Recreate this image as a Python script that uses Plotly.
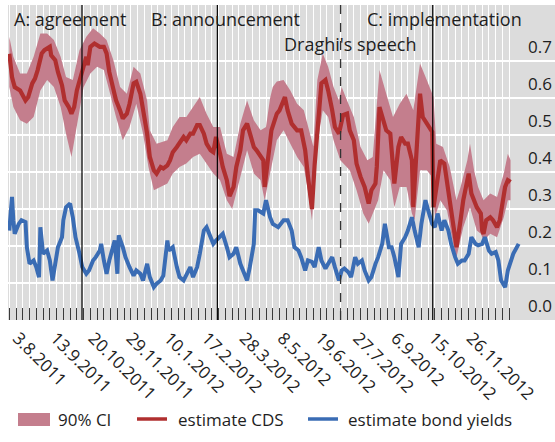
import plotly.graph_objects as go

# ---------------- data (observation index on x) ----------------
cds_obs = [0,2,4,8,12,14,17,19,21,24,26,30,31,34,36,39,41,44,46,48,50,52,55,57,58,60,63,67,70,72,74,77,79,82,84,87,89,92,94,97,99,102,104,107,109,112,114,117,119,121,124,126,129,131,134,136,139,141,144,146,149,151,153,156,158,161,163,166,168,171,173,176,178,181,183,186,188,189,192,194,198,200,204,206,209,213,216,219,221,224,226,229,231,234,236,239,241,244,245,247,250,252,255,257,260,263,266,268,271,272,274,277,279,282,284,285,288,290,293,295,298,299,301,304,306,309,313,314,316,319,322,324,326,329,331,334,336,340,342,346,349,350,351,353,356,358,361,363,365,367,369,371]
cds_est = [0.72,0.657,0.63,0.621,0.594,0.603,0.64,0.653,0.676,0.721,0.73,0.739,0.716,0.703,0.671,0.635,0.594,0.576,0.558,0.576,0.621,0.649,0.694,0.712,0.689,0.739,0.748,0.739,0.739,0.721,0.671,0.626,0.594,0.567,0.545,0.558,0.585,0.64,0.644,0.612,0.567,0.504,0.441,0.405,0.396,0.414,0.41,0.418,0.432,0.454,0.468,0.477,0.495,0.486,0.504,0.504,0.527,0.527,0.504,0.477,0.459,0.454,0.495,0.45,0.414,0.378,0.335,0.36,0.414,0.459,0.513,0.531,0.504,0.468,0.459,0.441,0.432,0.36,0.441,0.513,0.558,0.567,0.603,0.567,0.531,0.513,0.513,0.459,0.39,0.30,0.42,0.567,0.64,0.649,0.621,0.567,0.522,0.504,0.522,0.554,0.558,0.513,0.486,0.423,0.387,0.36,0.315,0.351,0.369,0.414,0.576,0.54,0.513,0.504,0.432,0.369,0.468,0.495,0.477,0.477,0.432,0.305,0.432,0.612,0.549,0.531,0.509,0.305,0.36,0.432,0.423,0.369,0.324,0.251,0.197,0.27,0.324,0.396,0.342,0.305,0.288,0.242,0.233,0.27,0.278,0.27,0.251,0.27,0.315,0.36,0.378,0.373]

ci_up_obs = [0,3,8,13,18,23,28,33,38,42,47,52,57,62,67,72,77,82,87,92,97,102,104,109,117,121,126,131,136,141,146,151,156,161,166,171,176,181,186,190,193,195,198,203,208,213,218,223,225,228,232,236,240,244,246,250,255,260,265,269,274,279,284,289,294,299,304,309,314,316,321,326,331,334,339,341,344,347,351,356,361,366,369,371]
ci_up = [0.766,0.712,0.667,0.667,0.712,0.775,0.775,0.757,0.712,0.657,0.649,0.73,0.766,0.789,0.775,0.757,0.703,0.63,0.612,0.685,0.667,0.594,0.513,0.477,0.486,0.522,0.549,0.549,0.576,0.603,0.558,0.522,0.522,0.45,0.441,0.531,0.594,0.54,0.513,0.522,0.60,0.63,0.645,0.649,0.621,0.585,0.567,0.50,0.47,0.649,0.721,0.685,0.63,0.594,0.63,0.594,0.549,0.468,0.432,0.441,0.676,0.612,0.549,0.585,0.612,0.567,0.694,0.649,0.603,0.477,0.468,0.414,0.324,0.36,0.432,0.477,0.405,0.36,0.324,0.342,0.333,0.396,0.45,0.432]

ci_lo_obs = [0,3,8,13,18,23,28,33,38,42,46,50,55,60,65,70,74,79,84,89,94,99,103,107,112,117,121,126,131,136,141,146,151,156,161,165,171,176,181,186,189,193,198,203,208,213,218,221,224,228,232,236,240,245,252,257,262,266,269,273,277,282,285,289,294,298,300,304,309,313,315,319,324,329,331,336,341,346,349,351,356,361,366,369,371]
ci_lo = [0.63,0.576,0.54,0.531,0.549,0.621,0.649,0.63,0.576,0.504,0.441,0.522,0.63,0.667,0.685,0.676,0.621,0.549,0.486,0.522,0.585,0.504,0.414,0.351,0.36,0.369,0.396,0.414,0.423,0.441,0.45,0.423,0.396,0.378,0.324,0.30,0.387,0.459,0.396,0.378,0.324,0.396,0.486,0.513,0.477,0.441,0.414,0.351,0.27,0.477,0.567,0.549,0.486,0.432,0.405,0.351,0.288,0.26,0.288,0.324,0.405,0.378,0.305,0.36,0.36,0.288,0.27,0.405,0.405,0.387,0.278,0.324,0.296,0.197,0.17,0.251,0.305,0.242,0.233,0.215,0.233,0.224,0.278,0.324,0.324]

bond_obs = [0,2,3,4,7,9,12,13,15,18,20,22,23,25,28,30,32,34,36,39,40,42,45,47,49,52,54,57,59,62,64,67,68,70,72,74,77,78,80,81,84,86,89,92,94,97,99,102,104,107,109,112,114,117,118,121,124,126,129,131,134,136,139,141,144,146,149,151,153,156,158,161,163,166,168,171,173,176,178,181,182,184,188,190,193,195,199,203,206,209,211,214,216,219,221,224,226,229,231,234,236,239,241,244,246,248,251,253,256,258,261,263,266,268,271,273,276,278,281,283,285,288,290,293,295,298,300,303,305,308,310,313,315,317,320,322,325,327,330,332,335,337,340,342,345,347,350,352,355,357,360,362,364,367,369,371,373,377]
bond_est = [0.242,0.333,0.27,0.233,0.26,0.27,0.265,0.197,0.152,0.161,0.143,0.116,0.251,0.179,0.188,0.161,0.107,0.152,0.197,0.224,0.27,0.305,0.315,0.278,0.224,0.179,0.143,0.125,0.134,0.161,0.17,0.188,0.206,0.161,0.125,0.161,0.197,0.215,0.125,0.229,0.197,0.17,0.143,0.12,0.134,0.125,0.107,0.152,0.116,0.089,0.098,0.107,0.12,0.215,0.188,0.197,0.143,0.116,0.107,0.12,0.143,0.116,0.143,0.179,0.242,0.251,0.224,0.206,0.215,0.224,0.233,0.197,0.17,0.179,0.197,0.152,0.134,0.107,0.143,0.206,0.297,0.297,0.288,0.324,0.278,0.26,0.251,0.27,0.27,0.242,0.197,0.188,0.17,0.134,0.161,0.157,0.143,0.197,0.161,0.139,0.152,0.17,0.143,0.107,0.134,0.139,0.129,0.116,0.17,0.152,0.161,0.134,0.107,0.116,0.152,0.17,0.206,0.26,0.197,0.197,0.17,0.116,0.206,0.224,0.242,0.278,0.242,0.197,0.26,0.324,0.297,0.26,0.251,0.288,0.242,0.27,0.242,0.206,0.17,0.152,0.161,0.161,0.179,0.224,0.206,0.202,0.206,0.224,0.188,0.179,0.184,0.161,0.107,0.089,0.134,0.161,0.179,0.206]

tick_obs = [1, 29, 57, 85, 113, 141, 169, 197, 225, 253, 281, 309, 337]
tick_labels = ["3.8.2011", "13.9.2011", "20.10.2011", "29.11.2011", "10.1.2012",
               "17.2.2012", "28.3.2012", "8.5.2012", "19.6.2012", "27.7.2012",
               "6.9.2012", "15.10.2012", "26.11.2012"]
week_obs = list(range(0, 371, 5))
event_obs = [53.8, 154.0, 313.4]
draghi_obs = 245.2
y_ticks = [0.0, 0.1, 0.2, 0.3, 0.4, 0.5, 0.6, 0.7]

# ---------------- styling ----------------
FONT = "Open Sans"
TXT = "#1e1e1e"
CI_COL = "#c47e8d"
RED = "#b02f2f"
BLUE = "#3a6cb4"

fig = go.Figure()
fig.add_trace(go.Scatter(
    x=ci_up_obs + ci_lo_obs[::-1], y=ci_up + ci_lo[::-1],
    fill="toself", fillcolor=CI_COL, line=dict(width=0), mode="lines",
    name="90% CI", showlegend=False, hoverinfo="skip"))
fig.add_trace(go.Scatter(x=cds_obs, y=cds_est, mode="lines",
                         line=dict(color=RED, width=4.2), name="estimate CDS",
                         showlegend=False))
fig.add_trace(go.Scatter(x=bond_obs, y=bond_est, mode="lines",
                         line=dict(color=BLUE, width=4.0), name="estimate bond yields",
                         showlegend=False))

shapes = []
for e in event_obs:
    shapes.append(dict(type="line", xref="x", yref="paper", x0=e, x1=e, y0=0, y1=1,
                       line=dict(color="black", width=1.2)))
shapes.append(dict(type="line", xref="x", yref="paper", x0=draghi_obs, x1=draghi_obs,
                   y0=0, y1=1, line=dict(color="#333", width=1.3, dash="dash")))

# legend (paper coords)
def px2x(px):
    return (px - 8) / 547.0

def py2y(py):
    return (320 - py) / 315.0

ly = py2y(419)
shapes.append(dict(type="rect", xref="paper", yref="paper", x0=px2x(18), x1=px2x(50),
                   y0=py2y(426), y1=py2y(413), fillcolor=CI_COL, line=dict(width=0)))
shapes.append(dict(type="line", xref="paper", yref="paper", x0=px2x(137), x1=px2x(167),
                   y0=ly, y1=ly, line=dict(color=RED, width=3.5)))
shapes.append(dict(type="line", xref="paper", yref="paper", x0=px2x(308), x1=px2x(338),
                   y0=ly, y1=ly, line=dict(color=BLUE, width=3.5)))

annos = []
def txt(s, px, py, size):
    annos.append(dict(text=s, xref="paper", yref="paper", x=px2x(px), y=py2y(py),
                      xanchor="left", yanchor="middle", showarrow=False,
                      font=dict(family=FONT, size=size, color=TXT), borderpad=0))

txt("90% CI", 57, 419, 17)
txt("estimate CDS", 177, 419, 17)
txt("estimate bond yields", 347, 419, 17)
txt("A: agreement", 13, 19.5, 18)
txt("B: announcement", 150, 19.5, 18)
txt("C: implementation", 365.5, 19.5, 18)
txt("Draghi's speech", 282.5, 43.5, 18)

fig.update_layout(
    width=555, height=442,
    margin=dict(l=8, r=0, t=5, b=122),
    paper_bgcolor="white", plot_bgcolor="#dcdcdc",
    font=dict(family=FONT, size=17, color=TXT),
    showlegend=False,
    shapes=shapes, annotations=annos,
    xaxis=dict(range=[-0.96, 403.9], tickmode="array", tickvals=tick_obs,
               ticktext=tick_labels, tickangle=45, ticks="", showgrid=False,
               zeroline=False, showline=False,
               ticklabelstandoff=4, ticklabelshift=7,
               tickfont=dict(family=FONT, size=17, color=TXT),
               minor=dict(tickmode="array", tickvals=week_obs, ticks="inside",
                          ticklen=12, tickwidth=1, tickcolor="#3a3a3a",
                          showgrid=True, gridcolor="white", gridwidth=1)),
    yaxis=dict(range=[0, 0.852], side="right", tickmode="array", tickvals=y_ticks,
               ticktext=["%.1f" % v for v in y_ticks], ticklabelposition="inside top",
               ticklabelshift=-2,
               ticks="", showgrid=True, gridcolor="white", gridwidth=1.6,
               zeroline=False, showline=False,
               tickfont=dict(family=FONT, size=17, color=TXT)),
)

fig.write_html("out.html")
